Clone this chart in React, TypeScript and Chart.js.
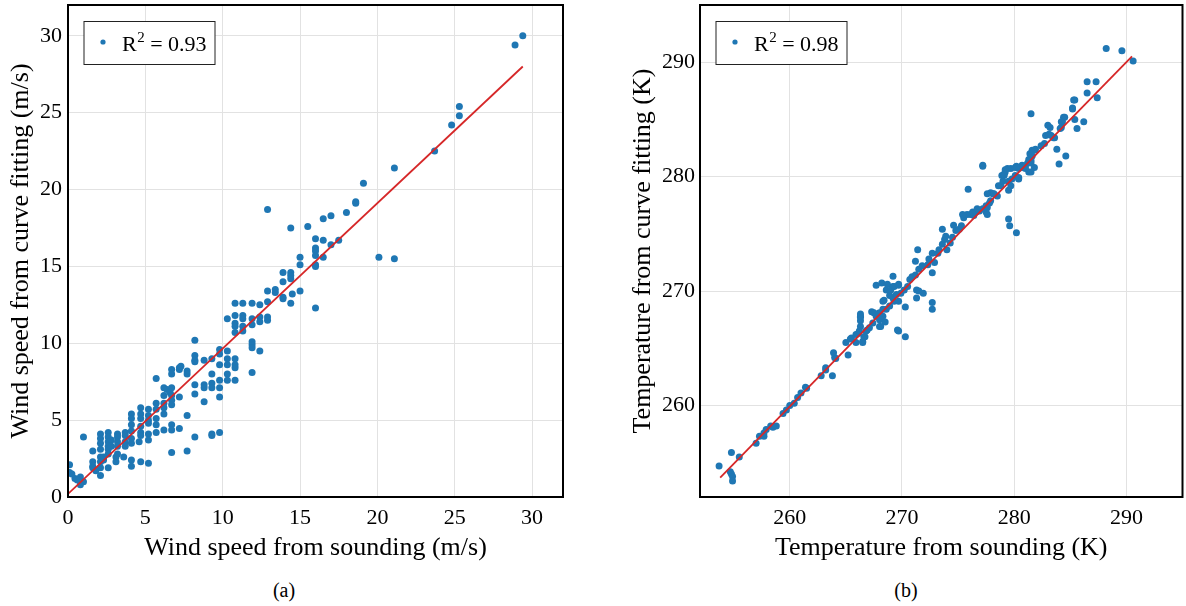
import React, { useEffect, useRef } from 'react';
import { Chart, registerables } from 'chart.js';

Chart.register(...registerables);

type Pair = [number, number];

// (a) wind speed: [from sounding, from curve fitting] in m/s
const windPairs: Pair[] = [
  [0.1, 2.1], [0.1, 1.6], [0.45, 1.2], [0.8, 1.3], [1.0, 1.0], [0.8, 0.8], [0.25, 1.5], [0.6, 1.1],
  [1.6, 3.0], [1.6, 2.3], [1.6, 2.0], [1.6, 1.9], [1.0, 3.9],
  [2.1, 4.1], [2.1, 3.8], [2.1, 3.5], [2.1, 3.1], [2.1, 2.6], [2.1, 2.3], [2.1, 1.9], [2.1, 1.4], [1.8, 1.7],
  [2.6, 4.2], [2.6, 3.9], [2.6, 3.6], [2.6, 3.3], [2.6, 3.1], [2.6, 2.8], [2.6, 1.9], [2.3, 2.6], [2.3, 2.4],
  [3.2, 4.1], [3.2, 3.9], [3.2, 3.6], [3.2, 3.3], [3.2, 2.8], [2.8, 3.7], [2.8, 3.3], [3.1, 2.3], [3.1, 2.6],
  [3.7, 4.2], [3.7, 4.0], [3.7, 3.6], [3.7, 3.3], [3.6, 2.6],
  [4.1, 5.4], [4.1, 5.1], [4.1, 4.7], [4.1, 4.3], [4.1, 3.8], [4.1, 3.5], [4.1, 2.4], [4.1, 2.0],
  [4.7, 5.8], [4.7, 5.4], [4.7, 5.1], [4.7, 4.6], [4.7, 4.2], [4.7, 4.0], [4.7, 2.3], [4.6, 3.6],
  [5.2, 5.7], [5.2, 5.3], [5.2, 5.0], [5.2, 4.8], [5.2, 4.1], [5.2, 3.7], [5.2, 2.2],
  [5.7, 6.1], [5.7, 5.7], [5.7, 5.1], [5.7, 4.7], [5.7, 4.2], [5.7, 7.7],
  [6.2, 5.8], [6.2, 5.4], [6.2, 4.35], [6.2, 6.1], [6.2, 6.6], [6.2, 7.1],
  [6.4, 7.0], [6.6, 6.8], [6.7, 6.6], [6.7, 6.3], [6.7, 6.0], [6.7, 4.7], [6.7, 4.35], [6.7, 2.9], [6.7, 7.1], [6.7, 8.3], [6.7, 8.0],
  [7.2, 4.45], [7.2, 6.5], [7.2, 8.4], [7.2, 8.3], [7.3, 8.5], [7.7, 8.2], [7.7, 8.0], [7.7, 5.3], [7.7, 3.0],
  [8.2, 8.8], [8.2, 7.3], [8.2, 6.7], [8.2, 10.2], [8.2, 9.2], [8.2, 8.9], [8.2, 3.9],
  [8.8, 8.9], [8.8, 7.3], [8.8, 7.1], [8.8, 6.2],
  [9.3, 9.0], [9.3, 8.0], [9.3, 7.4], [9.3, 7.1], [9.3, 4.1], [9.3, 4.0],
  [9.8, 9.6], [9.8, 9.3], [9.8, 8.6], [9.8, 7.6], [9.8, 7.1], [9.8, 6.5], [9.8, 4.2],
  [10.3, 11.6], [10.3, 9.5], [10.3, 9.0], [10.3, 8.6], [10.3, 8.0], [10.3, 7.6],
  [10.8, 12.6], [10.8, 11.8], [10.8, 11.3], [10.8, 11.1], [10.8, 10.7], [10.8, 9.0], [10.8, 8.6], [10.8, 8.4], [10.8, 7.6],
  [11.3, 12.6], [11.3, 11.8], [11.3, 11.6], [11.3, 11.1], [11.3, 10.8],
  [11.9, 12.6], [11.9, 11.6], [11.9, 11.2], [11.9, 10.1], [11.9, 9.9], [11.9, 9.7], [11.9, 8.1],
  [12.4, 12.5], [12.4, 11.7], [12.4, 11.4], [12.4, 9.5],
  [12.9, 13.4], [12.9, 12.7], [12.9, 11.7], [12.9, 11.5], [12.9, 18.7],
  [13.4, 13.5], [13.4, 13.3], [13.9, 14.6], [13.9, 14.0], [13.9, 13.0], [13.9, 12.9],
  [14.4, 17.5], [14.4, 14.6], [14.4, 14.4], [14.4, 14.2], [14.5, 13.2], [14.4, 12.6],
  [15.0, 15.6], [15.0, 15.1], [15.0, 13.4], [15.5, 17.6],
  [16.0, 16.8], [16.0, 16.2], [16.0, 16.0], [16.0, 15.7], [16.0, 15.1], [16.0, 15.0], [16.0, 12.3],
  [16.5, 18.1], [16.5, 16.7], [16.5, 15.6], [17.0, 18.3], [17.0, 16.4], [17.5, 16.7],
  [18.0, 18.5], [18.6, 19.2], [18.6, 19.1], [19.1, 20.4], [20.1, 15.6], [21.1, 15.5], [21.1, 21.4],
  [23.7, 22.5], [24.8, 24.2], [25.3, 24.8], [25.3, 25.4], [28.9, 29.4], [29.4, 30.0],
];
const windFitX = [0, 29.4];
const windFitY = [0.2, 28.0];
const windTicks = [0, 5, 10, 15, 20, 25, 30];
const windRange = [0, 32];

// (b) temperature: [from sounding, from curve fitting] in K
const tempPairs: Pair[] = [
  [253.7, 254.7], [254.8, 255.9], [254.7, 254.2], [254.8, 254.0], [254.9, 253.8], [254.9, 253.4], [255.5, 255.5],
  [257.0, 256.7], [257.3, 257.3], [257.7, 257.3], [257.7, 257.6], [257.9, 257.9], [258.3, 258.2], [258.8, 258.2], [258.5, 258.1],
  [259.4, 259.3], [259.7, 259.6], [260.0, 260.0], [260.4, 260.2], [260.7, 260.7], [261.0, 261.1], [261.4, 261.6], [261.5, 261.5],
  [262.8, 262.6], [263.2, 263.1], [263.8, 262.6], [264.0, 264.2], [263.9, 264.6], [263.2, 263.3], [264.1, 264.1],
  [265.0, 265.5], [265.2, 264.4], [265.5, 265.9], [265.9, 265.5], [266.1, 266.3], [266.3, 266.9], [266.3, 267.7], [266.3, 268.0],
  [266.5, 265.6], [266.7, 266.0], [266.9, 266.6], [267.4, 267.2], [267.7, 267.8], [268.0, 268.1], [267.3, 268.2], [268.0, 266.9],
  [268.5, 267.3], [268.6, 268.4], [268.9, 268.7], [269.2, 269.4], [269.5, 269.7], [269.3, 269.1], [267.7, 270.5], [268.2, 270.7],
  [268.6, 270.1], [268.7, 270.6], [269.2, 270.4], [269.2, 271.3], [269.7, 270.6], [269.6, 266.6], [268.3, 269.1],
  [265.4, 265.8], [265.9, 266.2], [266.2, 266.5], [266.3, 267.4], [266.3, 267.8], [266.5, 265.5], [266.6, 266.0], [266.8, 266.5],
  [267.1, 266.8], [267.5, 268.1], [268.0, 267.5], [268.3, 267.8], [268.1, 266.9], [268.3, 268.4], [268.4, 269.2], [268.9, 269.6],
  [269.0, 270.1], [269.3, 270.4], [269.7, 270.5], [269.9, 269.8], [270.2, 270.1], [270.5, 270.4], [270.7, 271.0], [270.9, 271.25],
  [271.2, 271.4], [271.5, 271.9], [271.2, 272.6], [271.4, 273.6], [271.8, 272.2], [272.3, 272.3], [272.4, 272.8], [272.7, 273.3],
  [272.9, 272.5], [272.7, 271.6], [273.2, 273.3], [273.3, 273.6], [273.6, 274.1], [273.8, 274.5], [273.6, 275.4], [273.9, 274.8],
  [274.0, 273.6], [274.3, 274.2], [274.5, 274.7], [274.6, 275.75], [274.8, 275.3], [275.1, 275.4], [275.3, 275.7], [275.5, 276.4],
  [275.8, 276.7], [276.1, 276.7], [276.4, 276.6], [276.6, 276.9], [276.9, 277.0], [277.2, 277.2], [277.5, 276.9], [277.6, 277.3],
  [277.8, 277.7], [277.9, 278.6], [278.1, 278.5], [278.5, 278.3], [278.8, 279.2], [278.9, 280.1], [279.2, 280.4], [279.5, 278.8],
  [279.7, 280.7], [280.1, 280.1], [280.4, 279.8], [280.7, 281.0], [281.0, 280.7], [281.3, 280.4], [281.5, 281.2], [281.6, 281.8],
  [275.9, 278.9], [277.2, 281.0], [279.5, 276.3], [279.6, 275.7], [280.2, 275.1], [269.7, 266.5], [270.3, 266.0], [269.7, 269.1],
  [270.3, 268.6], [271.3, 270.1], [271.3, 269.4], [271.9, 269.8], [272.7, 269.0], [272.7, 268.4], [271.5, 270.0],
  [275.4, 276.7], [276.3, 276.9], [276.7, 277.2], [277.5, 277.45], [277.6, 276.7], [277.9, 277.9], [277.6, 278.5],
  [278.2, 278.5], [278.6, 279.2], [279.0, 279.6], [279.1, 280.1], [279.4, 280.7], [279.5, 279.6], [279.7, 279.2], [279.8, 279.8],
  [280.1, 280.8], [280.4, 279.9], [280.4, 280.7], [280.7, 280.8], [281.0, 280.95], [281.2, 281.2], [281.3, 281.5], [281.4, 282.0],
  [281.6, 282.3], [281.8, 280.8], [281.5, 280.4], [281.9, 282.4], [282.4, 282.7], [282.7, 282.9], [282.8, 283.6], [283.1, 283.7],
  [283.2, 284.3], [283.5, 283.4], [283.8, 282.4], [284.0, 281.1], [284.1, 284.2], [284.3, 284.8], [284.6, 281.8], [284.4, 285.2],
  [285.2, 285.9], [285.4, 285.0], [285.6, 284.2], [285.3, 286.7], [286.2, 284.8], [286.5, 287.3], [286.5, 288.3], [287.3, 288.3],
  [287.4, 286.9], [281.5, 285.5], [277.2, 280.9],
  [288.2, 291.2], [289.6, 291.0], [290.6, 290.1], [285.4, 286.7], [285.2, 286.0], [284.5, 285.2], [284.2, 284.8], [284.2, 284.3],
  [283.0, 284.5], [283.3, 283.6], [283.6, 283.4], [281.8, 282.3], [281.5, 282.0], [281.5, 281.4], [280.4, 279.9], [280.2, 280.9],
  [279.2, 280.6], [279.1, 280.2],
];
const tempFitX = [253.8, 290.5];
const tempFitY = [253.7, 290.5];
const tempTicks = [260, 270, 280, 290];
const tempRange = [252, 295];

const SERIF = '"Liberation Serif", "Times New Roman", serif';
const CANVAS_H = 570;

interface PanelProps {
  pairs: Pair[];
  fitX: number[];
  fitY: number[];
  range: number[];
  ticks: number[];
  xTitle: string;
  yTitle: string;
  r2: string;
  left: number;
  width: number;
  yAxisWidth: number;
  padRight: number;
  yTitlePad: number;
  yTickPad: number;
}

function Panel(p: PanelProps) {
  const ref = useRef<HTMLCanvasElement>(null);

  useEffect(() => {
    const canvas = ref.current;
    if (!canvas) return;

    const framePlugin = {
      id: 'frameAndKey',
      afterDatasetsDraw(chart: any) {
        const { ctx, chartArea: a } = chart;
        ctx.save();
        ctx.strokeStyle = '#000';
        ctx.lineWidth = 2;
        ctx.strokeRect(a.left, a.top, a.right - a.left, a.bottom - a.top);

        const bx = a.left + 16;
        const by = a.top + 16.5;
        ctx.fillStyle = '#fff';
        ctx.fillRect(bx, by, 131, 43);
        ctx.lineWidth = 1;
        ctx.strokeStyle = '#222';
        ctx.strokeRect(bx, by, 131, 43);

        ctx.fillStyle = '#1f77b4';
        ctx.beginPath();
        ctx.arc(a.left + 35, a.top + 37, 2.6, 0, Math.PI * 2);
        ctx.fill();

        ctx.fillStyle = '#000';
        ctx.textBaseline = 'alphabetic';
        ctx.textAlign = 'left';
        const base = a.top + 45.7;
        let x = a.left + 54;
        ctx.font = `22px ${SERIF}`;
        ctx.fillText('R', x, base);
        x += ctx.measureText('R').width + 0.5;
        ctx.font = `15px ${SERIF}`;
        ctx.fillText('2', x, base - 9);
        x += ctx.measureText('2').width;
        ctx.font = `22px ${SERIF}`;
        ctx.fillText(' = ' + p.r2, x, base);
        ctx.restore();
      },
    };

    const tickFont = { family: SERIF, size: 22 };
    const titleFont = { family: SERIF, size: 26 };
    const setTicks = (s: any) => {
      s.ticks = p.ticks.map((value) => ({ value }));
    };

    const chart = new Chart(canvas, {
      type: 'scatter',
      data: {
        datasets: [
          {
            label: 'fit',
            data: p.fitX.map((x, i) => ({ x, y: p.fitY[i] })),
            showLine: true,
            pointRadius: 0,
            borderColor: '#d62728',
            borderWidth: 1.8,
            order: 0,
          } as any,
          {
            label: 'R2 = ' + p.r2,
            data: p.pairs.map(([x, y]) => ({ x, y })),
            pointRadius: 3.5,
            pointHoverRadius: 3.5,
            backgroundColor: '#1f77b4',
            borderWidth: 0,
            order: 1,
          },
        ],
      },
      options: {
        responsive: false,
        animation: false,
        devicePixelRatio: 1,
        layout: { padding: { left: 0, top: 5, right: p.padRight, bottom: 0 } },
        plugins: {
          legend: { display: false },
          tooltip: { enabled: false },
        },
        scales: {
          x: {
            type: 'linear',
            min: p.range[0],
            max: p.range[1],
            afterBuildTicks: setTicks,
            ticks: {
              font: tickFont,
              color: '#000',
              padding: 8,
              maxRotation: 0,
              autoSkip: false,
            },
            grid: { color: '#e2e2e2', lineWidth: 1, drawTicks: false },
            border: { display: false },
            title: {
              display: true,
              text: p.xTitle,
              font: titleFont,
              color: '#000',
              padding: { top: 0, bottom: 6 },
            },
            afterFit(s: any) {
              s.height = CANVAS_H - 497;
              s.paddingLeft = 0;
              s.paddingRight = 0;
            },
          },
          y: {
            type: 'linear',
            min: p.range[0],
            max: p.range[1],
            afterBuildTicks: setTicks,
            ticks: {
              font: tickFont,
              color: '#000',
              padding: p.yTickPad,
              autoSkip: false,
            },
            grid: { color: '#e2e2e2', lineWidth: 1, drawTicks: false },
            border: { display: false },
            title: {
              display: true,
              text: p.yTitle,
              font: titleFont,
              color: '#000',
              padding: { top: p.yTitlePad, bottom: 0 },
            },
            afterFit(s: any) {
              s.width = p.yAxisWidth;
              s.paddingTop = 0;
              s.paddingBottom = 0;
            },
          },
        },
      } as any,
      plugins: [framePlugin],
    });

    return () => chart.destroy();
  }, []);

  return (
    <canvas
      ref={ref}
      width={p.width}
      height={CANVAS_H}
      style={{ position: 'absolute', left: p.left, top: 0, width: p.width, height: CANVAS_H }}
    />
  );
}

const captionStyle: React.CSSProperties = {
  position: 'absolute',
  top: 579,
  width: 60,
  textAlign: 'center',
  fontFamily: SERIF,
  fontSize: 20,
  lineHeight: '22px',
  color: '#000',
};

export default function App() {
  return (
    <div
      style={{
        position: 'fixed',
        left: 0,
        top: 0,
        width: 1186,
        height: 606,
        background: '#fff',
        overflow: 'hidden',
      }}
    >
      <Panel
        pairs={windPairs}
        fitX={windFitX}
        fitY={windFitY}
        range={windRange}
        ticks={windTicks}
        xTitle="Wind speed from sounding (m/s)"
        yTitle="Wind speed from curve fitting (m/s)"
        r2="0.93"
        left={0}
        width={590}
        yAxisWidth={68}
        padRight={27}
        yTitlePad={6}
        yTickPad={6}
      />
      <Panel
        pairs={tempPairs}
        fitX={tempFitX}
        fitY={tempFitY}
        range={tempRange}
        ticks={tempTicks}
        xTitle="Temperature from sounding (K)"
        yTitle="Temperature from curve fitting (K)"
        r2="0.98"
        left={620}
        width={566}
        yAxisWidth={80}
        padRight={2}
        yTitlePad={8}
        yTickPad={5}
      />
      <div style={{ ...captionStyle, left: 284 - 30 }}>(a)</div>
      <div style={{ ...captionStyle, left: 906 - 30 }}>(b)</div>
    </div>
  );
}
